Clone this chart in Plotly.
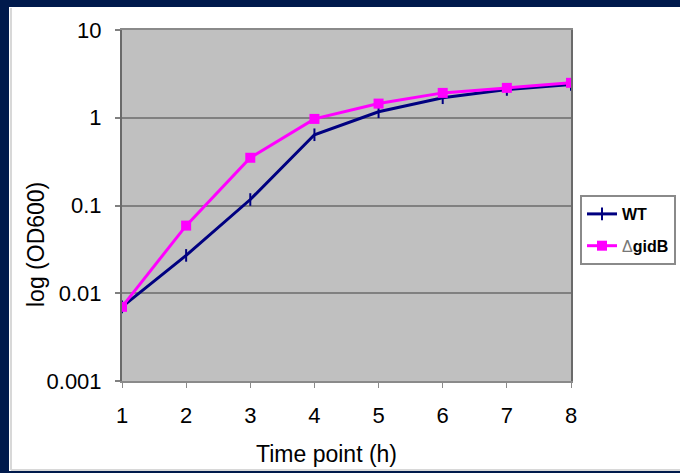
import plotly.graph_objects as go

time_h = [1, 2, 3, 4, 5, 6, 7, 8]
wt = [0.007, 0.027, 0.117, 0.64, 1.17, 1.69, 2.1, 2.4]
gidb = [0.007, 0.059, 0.35, 0.97, 1.45, 1.92, 2.19, 2.5]
y_ticks = [0.001, 0.01, 0.1, 1, 10]
y_ticklabels = ["0.001", "0.01", "0.1", "1", "10"]

W, H = 680, 473
L, R, T, B = 122, 571, 30, 381
FONT = "Liberation Sans, Arial, sans-serif"
NAVY = "#001a4c"

def px(x):
    return (x - L) / (R - L)

def py(y):
    return (B - y) / (B - T)

fig = go.Figure()
fig.add_trace(go.Scatter(
    x=time_h, y=wt, name="<b>WT</b>", mode="lines+markers", legendgroup="a",
    line=dict(color="#000080", width=3),
    marker=dict(symbol="line-ns", size=9, color="#000080",
                line=dict(color="#000080", width=2)),
))
fig.add_trace(go.Scatter(
    x=time_h, y=gidb, name="<span style='color:#777'>\u0394</span><b>gidB</b>",
    mode="lines+markers", legendgroup="b",
    line=dict(color="#ff00ff", width=3),
    marker=dict(symbol="square", size=10, color="#ff00ff"),
))

shapes = [
    dict(type="rect", xref="paper", yref="paper", x0=px(0), x1=px(9), y0=py(0), y1=py(H),
         fillcolor=NAVY, line_width=0, layer="above"),
    dict(type="rect", xref="paper", yref="paper", x0=px(0), x1=px(W), y0=py(0), y1=py(7),
         fillcolor=NAVY, line_width=0, layer="above"),
    dict(type="rect", xref="paper", yref="paper", x0=px(0), x1=px(W), y0=py(471), y1=py(H),
         fillcolor=NAVY, line_width=0, layer="above"),
    dict(type="line", xref="paper", yref="paper", x0=px(11), x1=px(11), y0=py(8), y1=py(470),
         line=dict(color="#d8d8d8", width=2), layer="above"),
    dict(type="line", xref="paper", yref="paper", x0=px(11), x1=px(W), y0=py(470), y1=py(470),
         line=dict(color="#d8d8d8", width=2), layer="above"),
]

fig.update_layout(
    width=W, height=H,
    margin=dict(l=L, r=W - R, t=T, b=H - B, autoexpand=False),
    paper_bgcolor="white",
    plot_bgcolor="#c0c0c0",
    font=dict(family=FONT, size=22, color="black"),
    showlegend=True,
    legend=dict(x=px(580), y=py(195), xanchor="left", yanchor="top",
                bgcolor="white", bordercolor="#8a8a8a", borderwidth=2,
                font=dict(family=FONT, size=16, color="black"),
                traceorder="grouped", tracegroupgap=8),
    shapes=shapes,
    annotations=[
        dict(text="Time point (h)", xref="paper", yref="paper", x=px(326), y=py(454),
             showarrow=False, font=dict(family=FONT, size=23, color="black"),
             xanchor="center", yanchor="middle"),
        dict(text="log (OD600)", xref="paper", yref="paper", x=px(36), y=py(245),
             showarrow=False, textangle=-90, font=dict(family=FONT, size=23, color="black"),
             xanchor="center", yanchor="middle"),
    ],
)

fig.update_xaxes(
    range=[1, 8], tickvals=time_h, ticktext=[str(t) for t in time_h],
    showgrid=False, zeroline=False,
    showline=True, linecolor="#8a8a8a", linewidth=2, mirror=True,
    ticks="outside", ticklen=5, tickwidth=1, tickcolor="#8a8a8a",
    ticklabelstandoff=9,
    tickfont=dict(family=FONT, size=22, color="black"),
)
fig.update_yaxes(
    type="log", range=[-3, 1], tickvals=y_ticks, ticktext=y_ticklabels,
    showgrid=True, gridcolor="#808080", gridwidth=2, zeroline=False,
    showline=True, linecolor="#6a6a6a", linewidth=2, mirror=True,
    ticks="outside", ticklen=5, tickwidth=2, tickcolor="#808080",
    ticklabelstandoff=9,
    tickfont=dict(family=FONT, size=22, color="black"),
)

fig.write_html("out.html")
